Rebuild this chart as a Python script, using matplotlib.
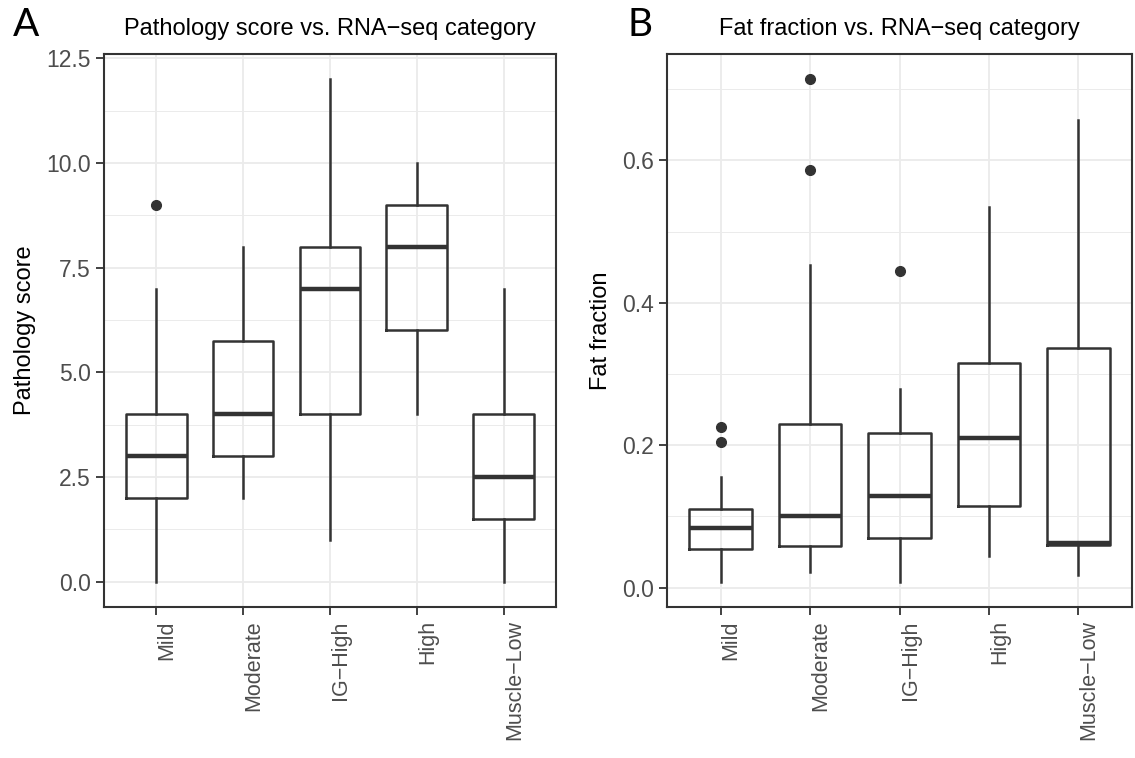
import matplotlib
matplotlib.use("Agg")
import matplotlib.pyplot as plt
from matplotlib.ticker import MultipleLocator, FormatStrFormatter

plt.rcParams['font.family'] = ['Liberation Sans', 'DejaVu Sans']

categories = ["Mild", "Moderate", "IG\u2212High", "High", "Muscle\u2212Low"]

# panel A: pathology score boxes (whisker low, Q1, median, Q3, whisker high)
path_whislo = [0, 2, 1, 4, 0]
path_q1 = [2, 3, 4, 6, 1.5]
path_med = [3, 4, 7, 8, 2.5]
path_q3 = [4, 5.75, 8, 9, 4]
path_whishi = [7, 8, 12, 10, 7]
path_fliers = [[9], [], [], [], []]

# panel B: fat fraction boxes
fat_whislo = [0.008, 0.022, 0.008, 0.045, 0.017]
fat_q1 = [0.054, 0.058, 0.070, 0.114, 0.060]
fat_med = [0.083, 0.101, 0.129, 0.210, 0.062]
fat_q3 = [0.111, 0.230, 0.217, 0.315, 0.336]
fat_whishi = [0.155, 0.453, 0.279, 0.534, 0.657]
fat_fliers = [[0.205, 0.226], [0.587, 0.714], [0.445], [], []]

dark = '#333333'


def make_stats(lo, q1, med, q3, hi, fl):
    out = []
    for i in range(len(lo)):
        out.append(dict(whislo=lo[i], q1=q1[i], med=med[i], q3=q3[i],
                        whishi=hi[i], fliers=fl[i]))
    return out


def draw_panel(ax, stats, ylim, major, minor, ylabel, title):
    ax.set_axisbelow(True)
    ax.bxp(stats, positions=range(1, 6), widths=0.7, showcaps=False,
           boxprops=dict(color=dark, linewidth=1.8),
           whiskerprops=dict(color=dark, linewidth=1.8),
           medianprops=dict(color=dark, linewidth=3.2, solid_capstyle='butt'),
           flierprops=dict(marker='o', markerfacecolor=dark, markeredgecolor=dark,
                           markersize=7, linestyle='none'),
           zorder=3)
    ax.set_xlim(0.4, 5.6)
    ax.set_ylim(*ylim)
    ax.yaxis.set_major_locator(MultipleLocator(major))
    ax.yaxis.set_minor_locator(MultipleLocator(minor))
    ax.yaxis.set_major_formatter(FormatStrFormatter('%.1f'))
    ax.set_xticks(range(1, 6))
    ax.set_xticklabels(categories, rotation=90, ha='left', va='top')
    ax.grid(True, which='major', color='#EBEBEB', linewidth=1.3)
    ax.grid(True, which='minor', axis='y', color='#EBEBEB', linewidth=0.7)
    ax.tick_params(axis='both', which='major', length=5.5, width=1.3,
                   color=dark, labelcolor='#4D4D4D', pad=4)
    ax.tick_params(axis='x', labelsize=15.5)
    ax.tick_params(axis='y', labelsize=16.5)
    ax.tick_params(axis='y', which='minor', length=0)
    for s in ax.spines.values():
        s.set_color(dark)
        s.set_linewidth(1.5)
    ax.set_ylabel(ylabel, fontsize=17, labelpad=7)
    ax.set_title(title, fontsize=17, pad=14)


fig = plt.figure(figsize=(11.35, 7.58), dpi=100)
axA = fig.add_axes([0.0916, 0.1992, 0.3982, 0.7296])
axB = fig.add_axes([0.5877, 0.1992, 0.4097, 0.7296])

draw_panel(axA, make_stats(path_whislo, path_q1, path_med, path_q3, path_whishi, path_fliers),
           (-0.6, 12.6), 2.5, 1.25, "Pathology score",
           "Pathology score vs. RNA\u2212seq category")
draw_panel(axB, make_stats(fat_whislo, fat_q1, fat_med, fat_q3, fat_whishi, fat_fliers),
           (-0.0273, 0.7493), 0.2, 0.1, "Fat fraction",
           "Fat fraction vs. RNA\u2212seq category")

fig.text(0.0115, 1 - 36 / 758, "A", fontsize=28, family='Lato', va='baseline')
fig.text(0.553, 1 - 36 / 758, "B", fontsize=28, family='Lato', va='baseline')

fig.savefig("out.png", dpi=100)
